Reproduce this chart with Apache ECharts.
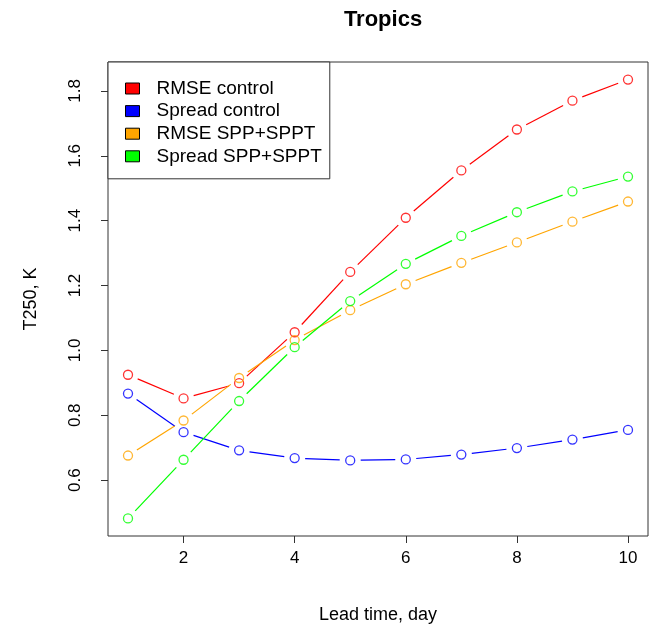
<!DOCTYPE html>
<html>
<head>
	<title>Tropics</title>
	<meta charset="utf-8">
	<style>
		html, body {
			margin: 0;
			padding: 0;
			background: #fff;
		}
		#chart {
			width: 652px;
			height: 626px;
		}
	</style>
	<script src="https://cdn.jsdelivr.net/npm/echarts@6/dist/echarts.min.js"></script>
</head>
<body>

<div id="chart"></div>

<script>

var days = [1, 2, 3, 4, 5, 6, 7, 8, 9, 10];
var rmseControl = [0.925, 0.852, 0.899, 1.056, 1.242, 1.409, 1.555, 1.681, 1.770, 1.835];
var spreadControl = [0.867, 0.748, 0.692, 0.668, 0.661, 0.664, 0.679, 0.699, 0.725, 0.755];
var rmseSpp = [0.676, 0.784, 0.915, 1.032, 1.124, 1.204, 1.270, 1.333, 1.397, 1.459];
var spreadSpp = [0.482, 0.663, 0.844, 1.010, 1.152, 1.267, 1.353, 1.426, 1.490, 1.536];

var seriesNames = ['RMSE control', 'Spread control', 'RMSE SPP+SPPT', 'Spread SPP+SPPT'];
var seriesColors = ['#ff0000', '#0000ff', '#ffa500', '#00ff00'];
var seriesValues = [rmseControl, spreadControl, rmseSpp, spreadSpp];

var xTicks = [2, 4, 6, 8, 10];
var yTicks = [0.6, 0.8, 1.0, 1.2, 1.4, 1.6, 1.8];

var font = '"Liberation Sans", Arial, Helvetica, sans-serif';
var gap = 10.5;

// lines with a gap round each point, like R type = "b"
function gappedLine (values, color) {
	return function (params, api) {
		var i = params.dataIndex;
		if (i >= values.length - 1) {
			return null;
		}
		var p1 = api.coord([days[i], values[i]]);
		var p2 = api.coord([days[i + 1], values[i + 1]]);
		var dx = p2[0] - p1[0];
		var dy = p2[1] - p1[1];
		var len = Math.sqrt(dx * dx + dy * dy);
		if (len <= 2 * gap) {
			return null;
		}
		var ux = dx / len;
		var uy = dy / len;
		return {
			type: 'line',
			shape: {
				x1: p1[0] + ux * gap,
				y1: p1[1] + uy * gap,
				x2: p2[0] - ux * gap,
				y2: p2[1] - uy * gap
			},
			style: {
				stroke: color,
				lineWidth: 1.2
			}
		};
	};
}

var series = [];
seriesValues.forEach(function (values, k) {
	var data = days.map(function (d, i) {
		return [d, values[i]];
	});
	series.push({
		name: seriesNames[k],
		type: 'custom',
		data: data,
		z: 2 + k * 2,
		silent: true,
		renderItem: gappedLine(values, seriesColors[k])
	});
	series.push({
		name: seriesNames[k],
		type: 'scatter',
		data: data,
		z: 3 + k * 2,
		symbol: 'circle',
		symbolSize: 9,
		itemStyle: {
			color: 'rgba(255,255,255,0)',
			borderColor: seriesColors[k],
			borderWidth: 1.3
		}
	});
});

var chart = echarts.init(document.getElementById('chart'));

chart.setOption({
	animation: false,
	backgroundColor: '#fff',
	title: {
		text: 'Tropics',
		left: 378,
		top: 4,
		textAlign: 'center',
		textStyle: {
			fontFamily: font,
			fontSize: 22,
			fontWeight: 'bold',
			color: '#000'
		}
	},
	legend: {
		left: 108,
		top: 62,
		orient: 'vertical',
		padding: [17, 8, 13, 17],
		itemGap: 3.6,
		itemWidth: 14,
		itemHeight: 11,
		borderColor: '#333',
		borderWidth: 1,
		backgroundColor: '#fff',
		selectedMode: false,
		textStyle: {
			fontFamily: font,
			fontSize: 19,
			lineHeight: 18,
			color: '#000',
			padding: [0, 0, 0, 12]
		},
		data: seriesNames.map(function (name, k) {
			return {
				name: name,
				icon: 'rect',
				itemStyle: {
					color: seriesColors[k],
					borderColor: '#000',
					borderWidth: 1
				}
			};
		})
	},
	grid: {
		left: 108,
		right: 4,
		top: 62,
		bottom: 90,
		show: true,
		outerBoundsMode: 'none',
		containLabel: false,
		borderColor: '#333',
		borderWidth: 1,
		backgroundColor: 'transparent'
	},
	xAxis: {
		type: 'value',
		min: 0.64,
		max: 10.36,
		name: 'Lead time, day',
		nameLocation: 'middle',
		nameGap: 70,
		nameTextStyle: {
			fontFamily: font,
			fontSize: 18,
			color: '#000'
		},
		axisLine: { show: false },
		splitLine: { show: false },
		axisTick: {
			show: true,
			length: 7,
			customValues: xTicks,
			lineStyle: { color: '#333', width: 1 }
		},
		axisLabel: {
			customValues: xTicks,
			margin: 14,
			fontFamily: font,
			fontSize: 17,
			color: '#000'
		}
	},
	yAxis: {
		type: 'value',
		min: 0.4279,
		max: 1.8891,
		name: 'T250, K',
		nameLocation: 'middle',
		nameGap: 68,
		nameTextStyle: {
			fontFamily: font,
			fontSize: 18,
			color: '#000'
		},
		axisLine: { show: false },
		splitLine: { show: false },
		axisTick: {
			show: true,
			length: 7,
			customValues: yTicks,
			lineStyle: { color: '#333', width: 1 }
		},
		axisLabel: {
			customValues: yTicks,
			rotate: 90,
			margin: 24,
			fontFamily: font,
			fontSize: 17,
			color: '#000',
			formatter: function (v) {
				return v.toFixed(1);
			}
		}
	},
	series: series
});

</script>
</body>
</html>
